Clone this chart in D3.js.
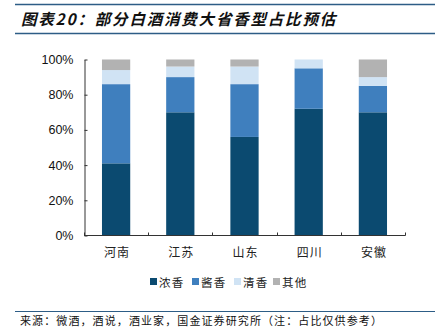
<!DOCTYPE html>
<html><head><meta charset="utf-8">
<script src="https://cdn.jsdelivr.net/npm/d3@7"></script>
<style>body{margin:0;background:#fff}svg{display:block}</style>
</head><body>
<script>
const categories = ["河南","江苏","山东","四川","安徽"];
const seriesNames = ["浓香","酱香","清香","其他"];
const nong = [41,70,56,72,70];
const jiang = [45,20,30,23,15];
const qing = [8,6,10,5,5];
const other = [6,4,4,0,10];
const yTicks = [0,20,40,60,80,100];
const colors = ["#0b4a70","#3f7fbe","#d0e3f4","#b2b2b2"];
const title = "图表20：部分白酒消费大省香型占比预估";
const source = "来源：微酒，酒说，酒业家，国金证券研究所（注：占比仅供参考）";

const W=435,H=335;
const svg=d3.select("body").append("svg").attr("width",W).attr("height",H);
const cjk='"Noto Sans CJK SC","Noto Sans",sans-serif';

// title
svg.append("line").attr("x1",15).attr("x2",435).attr("y1",4.5).attr("y2",4.5).attr("stroke","#2d5d86").attr("stroke-width",1.5);
svg.append("line").attr("x1",15).attr("x2",435).attr("y1",33.5).attr("y2",33.5).attr("stroke","#2d5d86").attr("stroke-width",1.5);
svg.append("text").attr("x",21).attr("y",25).text(title)
  .attr("font-family",cjk).attr("font-size",15.5).attr("font-weight","bold").attr("font-style","italic").attr("fill","#111")
  .attr("letter-spacing",1.8);

const x=d3.scaleBand().domain(categories).range([84,405]).paddingInner(0.56).paddingOuter(0.28);
const y=d3.scaleLinear().domain([0,100]).range([235.5,59.5]);

const rows=categories.map((c,i)=>({cat:c,"浓香":nong[i],"酱香":jiang[i],"清香":qing[i],"其他":other[i]}));
const stack=d3.stack().keys(seriesNames)(rows);
const color=d3.scaleOrdinal().domain(seriesNames).range(colors);

svg.append("g").selectAll("g").data(stack).join("g").attr("fill",d=>color(d.key))
  .selectAll("rect").data(d=>d).join("rect")
  .attr("x",d=>x(d.data.cat)).attr("width",x.bandwidth())
  .attr("y",d=>y(d[1])).attr("height",d=>Math.max(0,y(d[0])-y(d[1])));

// y axis
const ya=svg.append("g").attr("transform","translate(84.5,0)")
  .call(d3.axisLeft(y).tickValues(yTicks).tickFormat(d=>d+"%").tickSizeInner(-3).tickSizeOuter(0).tickPadding(11));
ya.selectAll("text").attr("font-family","Liberation Sans, Arial, sans-serif").attr("font-size",12.5).attr("fill","#111");
ya.selectAll("path,line").attr("stroke","#333");

// x axis: ticks at band boundaries
const xa=svg.append("g").attr("transform","translate(0,235.5)");
xa.append("line").attr("x1",84).attr("x2",405.5).attr("stroke","#333");
const bounds=d3.range(categories.length+1).map(i=>84+i*(321/categories.length));
xa.selectAll("line.t").data(bounds).join("line").attr("class","t")
  .attr("x1",d=>Math.round(d)+0.5).attr("x2",d=>Math.round(d)+0.5).attr("y1",0).attr("y2",-3).attr("stroke","#333");
xa.selectAll("text").data(categories).join("text")
  .attr("x",d=>x(d)+x.bandwidth()/2+1).attr("y",21).attr("text-anchor","middle")
  .attr("font-family",cjk).attr("font-size",12).attr("fill","#222").attr("letter-spacing",1).text(d=>d);

// legend
const lg=svg.append("g").attr("transform","translate(150,282)");
const lx=[0,42,84,123];
seriesNames.forEach((s,i)=>{
  const g=lg.append("g").attr("transform",`translate(${lx[i]},0)`);
  g.append("rect").attr("x",0).attr("y",-4).attr("width",7).attr("height",7).attr("fill",colors[i]);
  g.append("text").attr("x",9).attr("y",4.5).text(s).attr("font-family",cjk).attr("font-size",11.5).attr("letter-spacing",1.2).attr("fill","#222");
});

// source
svg.append("line").attr("x1",15).attr("x2",435).attr("y1",311.5).attr("y2",311.5).attr("stroke","#2d5d86").attr("stroke-width",1);
svg.append("text").attr("x",20).attr("y",325).text(source).attr("font-family",cjk).attr("font-size",11).attr("letter-spacing",1.1).attr("fill","#111");
</script>
</body></html>
